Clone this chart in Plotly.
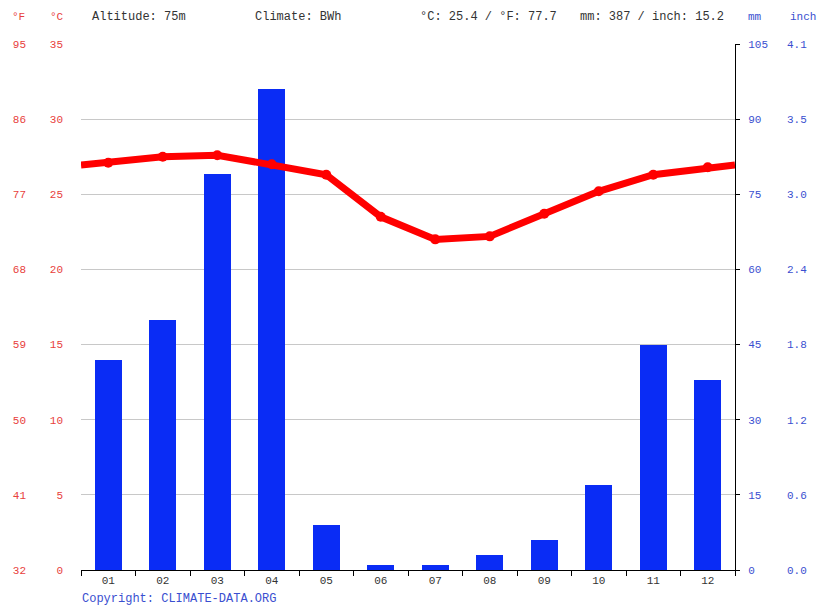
import plotly.graph_objects as go

months = ["01", "02", "03", "04", "05", "06", "07", "08", "09", "10", "11", "12"]
month_pos = [1, 2, 3, 4, 5, 6, 7, 8, 9, 10, 11, 12]
temp_c = [27.1, 27.5, 27.6, 27.0, 26.3, 23.5, 22.0, 22.2, 23.7, 25.2, 26.3, 26.8]
precip_mm = [42, 50, 79, 96, 9, 1, 1, 3, 6, 17, 45, 38]

c_ticks = [0, 5, 10, 15, 20, 25, 30, 35]
f_ticks = [32, 41, 50, 59, 68, 77, 86, 95]
mm_ticks = [0, 15, 30, 45, 60, 75, 90, 105]
inch_labels = ["0.0", "0.6", "1.2", "1.8", "2.4", "3.0", "3.5", "4.1"]

header = ["Altitude: 75m", "Climate: BWh", "°C: 25.4 / °F: 77.7", "mm: 387 / inch: 15.2"]

W, H = 820, 609
L, R, T, B = 81, 735, 44, 39
ph = H - T - B

RED = "#e8413c"
BLUE = "#3a4fd0"
MONO = "Liberation Mono, DejaVu Sans Mono, monospace"

# line extended to the plot edges using the wrap-around midpoint (Dec/Jan)
edge = (temp_c[0] + temp_c[-1]) / 2
line_x = [0.5] + month_pos + [12.5]
line_y = [edge] + temp_c + [edge]

fig = go.Figure()
fig.add_trace(go.Bar(x=month_pos, y=precip_mm, width=0.5, marker_color="#0a2cf5",
                     marker_line_width=0, yaxis="y", xaxis="x"))
fig.add_trace(go.Scatter(x=line_x, y=line_y, mode="lines", line=dict(color="#ff0000", width=7),
                         yaxis="y2", xaxis="x", hoverinfo="skip"))
fig.add_trace(go.Scatter(x=month_pos, y=temp_c, mode="markers", marker=dict(color="#ff0000", size=10),
                         yaxis="y2", xaxis="x"))
fig.add_trace(go.Scatter(x=[], y=[], yaxis="y3", xaxis="x"))
fig.add_trace(go.Scatter(x=[], y=[], yaxis="y4", xaxis="x"))

fig.update_layout(
    width=W, height=H,
    margin=dict(l=0, r=0, t=T, b=B),
    paper_bgcolor="white", plot_bgcolor="white",
    showlegend=False,
    bargap=0,
    font=dict(family=MONO, size=11, color="#333"),
    xaxis=dict(domain=[L / W, R / W], range=[0.5, 12.5], tickvals=month_pos, ticktext=months,
               ticks="", showline=True, linecolor="black", linewidth=1, showgrid=False, zeroline=False,
               tickfont=dict(family=MONO, size=11, color="#333"),
               minor=dict(ticks="outside", ticklen=5, tickcolor="black", tick0=0.5, dtick=1, showgrid=False)),
    yaxis=dict(side="right", range=[0, 105], tickvals=mm_ticks, ticktext=[str(v) for v in mm_ticks],
               showgrid=True, gridcolor="#c8c8c8", gridwidth=1, zeroline=False,
               showline=True, linecolor="black", linewidth=1, ticks="outside", ticklen=4, tickcolor="black",
               ticklabelstandoff=6, tickfont=dict(family=MONO, size=11, color=BLUE), anchor="x"),
    yaxis2=dict(overlaying="y", side="left", range=[0, 35], tickvals=c_ticks,
                ticktext=[str(v) for v in c_ticks], showgrid=False, zeroline=False, showline=False,
                ticks="", ticklabelstandoff=17, tickfont=dict(family=MONO, size=11, color=RED), anchor="x"),
    yaxis3=dict(overlaying="y", side="left", anchor="free", position=26 / W, range=[32, 95],
                tickvals=f_ticks, ticktext=[str(v) for v in f_ticks], showgrid=False, zeroline=False,
                showline=False, ticks="", tickfont=dict(family=MONO, size=11, color=RED)),
    yaxis4=dict(overlaying="y", side="right", anchor="free", position=786 / W, range=[0, 105 / 25.4],
                tickvals=[v / 25.4 for v in mm_ticks], ticktext=inch_labels, showgrid=False, zeroline=False,
                showline=False, ticks="", tickfont=dict(family=MONO, size=11, color=BLUE)),
)

def py(pix):
    return (H - B - pix) / ph

annos = [
    ("°F", 18, RED, "center"), ("°C", 57, RED, "center"),
    ("mm", 755, BLUE, "center"), ("inch", 803, BLUE, "center"),
]
for txt, x, col, anc in annos:
    fig.add_annotation(text=txt, x=x / W, y=py(17), xref="paper", yref="paper", showarrow=False,
                       xanchor=anc, yanchor="middle", font=dict(family=MONO, size=11, color=col))

for txt, x in zip(header, [90, 253, 418, 578]):
    fig.add_annotation(text=txt, x=x / W, y=py(17), xref="paper", yref="paper", showarrow=False,
                       xanchor="left", yanchor="middle", font=dict(family=MONO, size=12, color="#333"))

fig.add_annotation(text="Copyright: CLIMATE-DATA.ORG", x=80 / W, y=py(599), xref="paper", yref="paper",
                   showarrow=False, xanchor="left", yanchor="middle",
                   font=dict(family=MONO, size=12, color=BLUE))

fig.write_html("out.html", config={"displayModeBar": False},
               post_script="document.body.style.margin='0';document.body.style.overflow='hidden';")
